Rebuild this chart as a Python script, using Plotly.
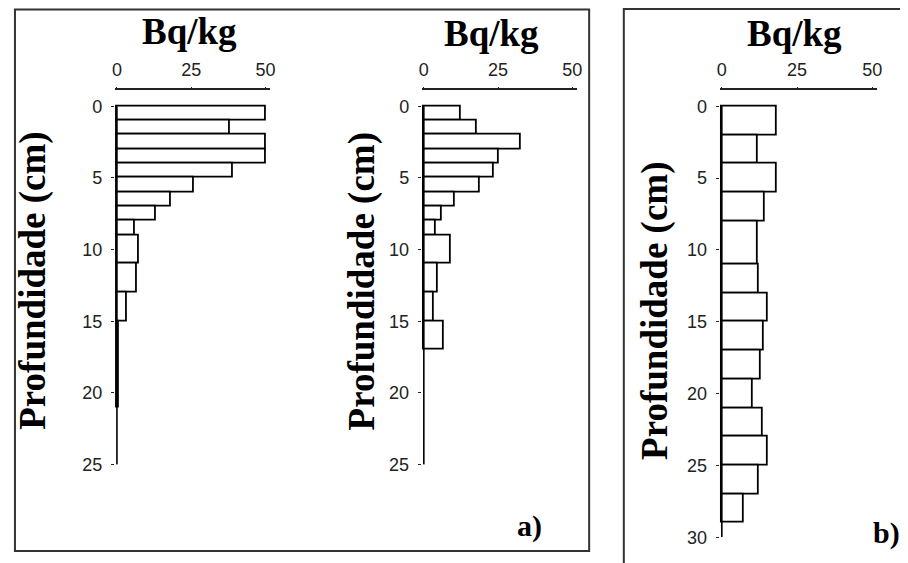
import plotly.graph_objects as go

# ---- data (depth intervals in cm, activity in Bq/kg) ----
p1_top = [0, 1, 2, 3, 4, 5, 6, 7, 8, 9, 11, 13, 15]
p1_bot = [1, 2, 3, 4, 5, 6, 7, 8, 9, 11, 13, 15, 21]
p1_val = [50, 38, 50, 50, 39, 26, 18, 13, 6, 7.3, 6.7, 3.3, 0.7]

p2_top = [0, 1, 2, 3, 4, 5, 6, 7, 8, 9, 11, 13, 15]
p2_bot = [1, 2, 3, 4, 5, 6, 7, 8, 9, 11, 13, 15, 17]
p2_val = [12.3, 17.7, 32.7, 25.3, 23.7, 18.7, 10.3, 6, 4, 9, 4.7, 3.3, 6.7]

p3_top = [0, 2, 4, 6, 8, 11, 13, 15, 17, 19, 21, 23, 25, 27]
p3_bot = [2, 4, 6, 8, 11, 13, 15, 17, 19, 21, 23, 25, 27, 29]
p3_val = [18.1, 11.8, 18.1, 14.1, 11.8, 12.2, 15.1, 13.8, 12.8, 10.2, 13.5, 15.1, 12.2, 7.2]

x_ticks = [0, 25, 50]
y_ticks_a = [0, 5, 10, 15, 20, 25]
y_ticks_b = [0, 5, 10, 15, 20, 25, 30]

x_title = "Bq/kg"
y_title = "Profundidade (cm)"

# page body has an 8px default margin; work in page pixels and shift
OFF = 8
W, H = 908 - OFF, 563 - OFF

def px(x):
    return (x - OFF) / W

def py(y):
    return 1 - (y - OFF) / H

fig = go.Figure()

panels = [
    (p1_top, p1_bot, p1_val, "x", "y"),
    (p2_top, p2_bot, p2_val, "x2", "y2"),
    (p3_top, p3_bot, p3_val, "x3", "y3"),
]
for top, bot, val, xa, ya in panels:
    centers = [(a + b) / 2 for a, b in zip(top, bot)]
    widths = [b - a for a, b in zip(top, bot)]
    fig.add_trace(go.Bar(
        orientation="h", x=val, y=centers, width=widths, base=0,
        marker=dict(color="white", line=dict(color="black", width=1.8)),
        xaxis=xa, yaxis=ya, showlegend=False, hoverinfo="skip",
    ))

tick_font = dict(family="Liberation Sans, Arial, sans-serif", size=18, color="#222")

def xaxis_cfg(zero_px, scale):
    lo, hi = -0.7, 51.5
    return dict(
        range=[lo, hi], domain=[px(zero_px + lo * scale), px(zero_px + hi * scale)],
        side="top", showline=True, linecolor="#222", linewidth=1.5,
        ticks="outside", ticklen=2, tickcolor="#222", tickvals=x_ticks,
        ticklabelstandoff=4, showgrid=False, zeroline=False, tickfont=tick_font,
        fixedrange=True,
    )

def yaxis_cfg(bottom_val, bottom_px, ticks):
    return dict(
        range=[bottom_val, -1.1], domain=[py(bottom_px), py(92)],
        showline=False, ticks="outside", ticklen=3, tickcolor="#222",
        tickvals=ticks, ticklabelstandoff=5, showgrid=False, zeroline=False,
        tickfont=tick_font, fixedrange=True,
    )

fig.update_layout(
    xaxis=xaxis_cfg(115, 3.0), yaxis=yaxis_cfg(25, 473, y_ticks_a),
    xaxis2=dict(xaxis_cfg(425, 3.0), anchor="y2"), yaxis2=dict(yaxis_cfg(25, 473, y_ticks_a), anchor="x2"),
    xaxis3=dict(xaxis_cfg(726, 3.04), anchor="y3"), yaxis3=dict(yaxis_cfg(30, 547, y_ticks_b), anchor="x3"),
)

shapes = []
# vertical depth axis lines
for xr, yr, ymax in [("x", "y", 25), ("x2", "y2", 25), ("x3", "y3", 30)]:
    shapes.append(dict(type="line", xref=xr, yref=yr, x0=0, x1=0, y0=0, y1=ymax,
                       line=dict(color="black", width=1.6)))
# panel frames
shapes.append(dict(type="rect", xref="paper", yref="paper",
                   x0=px(12), x1=px(592), y0=py(561), y1=py(9.5),
                   line=dict(color="#333", width=2)))
shapes.append(dict(type="rect", xref="paper", yref="paper",
                   x0=px(627), x1=px(930), y0=py(580), y1=py(9),
                   line=dict(color="#333", width=2)))

title_font = dict(family="Liberation Serif, Times New Roman, serif", size=37, color="black", weight="bold")
annotations = []
for cx, cy in [(188, 32), (493, 34), (799, 34)]:
    annotations.append(dict(text=x_title, x=px(cx), y=py(cy), xref="paper", yref="paper",
                            showarrow=False, xanchor="center", yanchor="middle", font=title_font))
for cx, cy in [(30, 286), (363, 286), (659, 316)]:
    annotations.append(dict(text=y_title, x=px(cx), y=py(cy), xref="paper", yref="paper",
                            showarrow=False, xanchor="center", yanchor="middle", textangle=-90,
                            font=title_font))
lab_font = dict(family="Liberation Serif, Times New Roman, serif", size=30, color="black", weight="bold")
annotations.append(dict(text="a)", x=px(532), y=py(536), xref="paper", yref="paper",
                        showarrow=False, xanchor="center", yanchor="middle", font=lab_font))
annotations.append(dict(text="b)", x=px(892), y=py(543), xref="paper", yref="paper",
                        showarrow=False, xanchor="center", yanchor="middle", font=lab_font))

fig.update_layout(
    width=W, height=H, margin=dict(l=0, r=0, t=0, b=0),
    paper_bgcolor="white", plot_bgcolor="white",
    shapes=shapes, annotations=annotations, bargap=0,
)

fig.write_html("out.html")
